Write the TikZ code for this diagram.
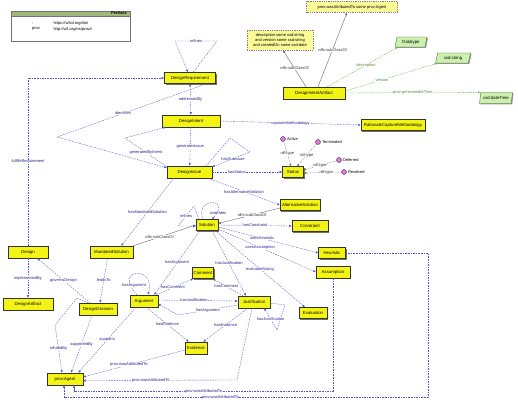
\documentclass[tikz,border=0pt]{standalone}
\usepackage{fontspec}
\setmainfont{Liberation Sans}
\usetikzlibrary{arrows.meta,shapes.geometric,shadows}
\definecolor{clsfill}{RGB}{244,244,20}
\definecolor{shadowc}{RGB}{115,115,85}
\definecolor{restfill}{RGB}{250,250,150}
\definecolor{dtfill}{RGB}{205,240,175}
\definecolor{dtborder}{RGB}{70,120,50}
\definecolor{indfill}{RGB}{225,120,225}
\definecolor{opc}{RGB}{85,85,205}
\definecolor{lblc}{RGB}{35,35,140}
\definecolor{dpc}{RGB}{90,180,60}
\definecolor{preffill}{RGB}{160,185,120}
\newcommand\myfs{\fontsize{4.3}{5}\selectfont}
\newcommand\myfl{\fontsize{4}{4.6}\selectfont}
\tikzset{
  clsnode/.style={draw=black!80, fill=clsfill, line width=0.35pt, inner sep=0pt, minimum height=11pt, font=\myfs,
    drop shadow={shadow xshift=1.2pt, shadow yshift=-1.2pt, fill=shadowc, opacity=1}},
  restnode/.style={draw=black!50, dash pattern=on 1pt off 0.8pt, fill=restfill, inner sep=1pt, font=\myfl, align=center},
  dtnode/.style={trapezium, trapezium left angle=72, trapezium right angle=108, trapezium stretches=true,
    draw=dtborder, fill=dtfill, inner sep=0pt, minimum height=10pt, font=\myfs,
    drop shadow={shadow xshift=1pt, shadow yshift=-1pt, fill=black!40, opacity=1}},
  indnode/.style={circle, draw=black!80, line width=0.4pt, fill=indfill, minimum size=5pt, inner sep=0pt},
  opedge/.style={draw=opc, dash pattern=on 1.6pt off 1pt, line width=0.35pt, ->},
  subedge/.style={draw=black!60, line width=0.4pt, ->},
  typedge/.style={draw=black!55, dash pattern=on 1.2pt off 1pt, line width=0.35pt, ->},
  dpedge/.style={draw=dpc, dash pattern=on 1.6pt off 1pt, line width=0.35pt, -{Latex[open,length=2.6pt,width=2.2pt]}},
  elbl/.style={font=\myfl, text=lblc, fill=white, inner sep=0.3pt},
  tlbl/.style={elbl, text=black!80},
  glbl/.style={elbl, text=dpc!80!black},
  txt/.style={font=\myfl, inner sep=0.3pt},
}
\begin{document}
\begin{tikzpicture}[x=1pt,y=-1pt,>={Latex[length=2.6pt,width=2.2pt]}]
\useasboundingbox (0,0) rectangle (518,403);
\fill[white] (0,0) rectangle (518,403);

% prefixes
\node[draw=black!55, line width=0.5pt, minimum width=119pt, minimum height=30pt, inner sep=0pt] (pref) at (70.5,26) {};
\node[fill=preffill, draw=black!55, line width=0.5pt, minimum width=119pt, minimum height=5pt, inner sep=0pt, anchor=north] (prefh) at (pref.north) {};
\node[txt, font=\bfseries\myfl, anchor=east] (preft) at ([xshift=-3pt]prefh.east) {Prefixes};
\node[txt] (p1k) at (33,23) {:};
\node[txt, anchor=west] (p1v) at (53,23) {https://w3id.org/dio/};
\node[txt] (p2k) at (36,29) {prov};
\node[txt, anchor=west] (p2v) at (53,29) {http://w3.org/ns/prov\#};

% classes
\node[clsnode, minimum width=51pt] (DReq) at (190,78) {DesignRequirement};
\node[clsnode, minimum width=58pt, minimum height=12pt] (DIntent) at (191,121) {DesignIntent};
\node[clsnode, minimum width=45pt, minimum height=12pt] (DIssue) at (189.5,172) {DesignIssue};
\node[clsnode, minimum width=21pt] (Status) at (293,172) {Status};
\node[clsnode, minimum width=40pt] (AltSol) at (300,205) {AlternativeSolution};
\node[clsnode, minimum width=22pt] (Sol) at (207,225) {Solution};
\node[clsnode, minimum width=36pt] (Constr) at (310,226) {Constraint};
\node[clsnode, minimum width=27pt] (Heur) at (332,253) {Heuristic};
\node[clsnode, minimum width=34pt, minimum height=12pt] (Assum) at (333,272) {Assumption};
\node[clsnode, minimum width=28pt] (Eval) at (313,313) {Evaluation};
\node[clsnode, minimum width=32pt, minimum height=12pt] (Just) at (254,302) {Justification};
\node[clsnode, minimum width=21pt] (Comm) at (203,273) {Comment};
\node[clsnode, minimum width=22pt, minimum height=12pt] (Evid) at (196,348) {Evidence};
\node[clsnode, minimum width=28pt, minimum height=12pt] (Arg) at (144,301) {Argument};
\node[clsnode, minimum width=36pt, minimum height=12pt] (Agent) at (65,379) {prov:Agent};
\node[clsnode, minimum width=38pt, minimum height=12pt] (DDec) at (98,309) {DesignDecision};
\node[clsnode, minimum width=50pt, minimum height=12pt] (DArt) at (28,304) {DesignArtifact};
\node[clsnode, minimum width=40pt, minimum height=12pt] (Design) at (28,252) {Design};
\node[clsnode, minimum width=43pt, minimum height=12pt] (MandSol) at (111.5,252) {MandatedSolution};
\node[clsnode, minimum width=62pt, minimum height=12pt] (DIA) at (314,93) {DesignIntentArtifact};
\node[clsnode, minimum width=64pt] (RatMeth) at (393,125) {RationaleCaptureMethodology};

% restrictions
\node[restnode, minimum width=66pt, minimum height=20pt] (R1) at (280,40) {description some xsd:string\\and version some xsd:string\\and createdOn some xsd:date};
\node[restnode, minimum width=91pt, minimum height=11pt] (R2) at (352,7) {prov:wasAttributedTo some prov:Agent};

% datatypes
\node[dtnode, minimum width=32pt] (Dtype) at (411,42) {Datatype};
\node[dtnode, minimum width=35pt] (XStr) at (453,58) {xsd:string};
\node[dtnode, minimum width=33pt, minimum height=11pt] (XDT) at (496,98) {xsd:dateTime};

% individuals
\node[indnode] (Active) at (283,139) {};
\node[txt, anchor=west] (ActiveL) at ([xshift=0.8pt]Active.east) {Active};
\node[indnode] (Term) at (318,142) {};
\node[txt, anchor=west] (TermL) at ([xshift=0.8pt]Term.east) {Terminated};
\node[indnode] (Def) at (339,160) {};
\node[txt, anchor=west] (DefL) at ([xshift=0.8pt]Def.east) {Deferred};
\node[indnode] (Res) at (344,172) {};
\node[txt, anchor=west] (ResL) at ([xshift=0.8pt]Res.east) {Resolved};

% ---- connectors ----
\draw[opedge] (Design.north) |- node[elbl,pos=0.25]{fulfillsRequirement} (DReq.west);

\coordinate (rf1) at (175,41);
\coordinate (rf2) at (217,41);
\draw[opedge] ([xshift=3pt]DReq.north) -- (rf2) -- node[elbl]{refines} (rf1) -- ([xshift=-2pt]DReq.north);

\draw[opedge,<->] (DReq) -- node[elbl]{addressedBy} (DIntent);
\draw[opedge] (DIntent) -- node[elbl]{generatesIssue} (DIssue);
\draw[opedge] (DIntent.east) -- node[elbl]{capturesMethodology} (RatMeth.west);

\coordinate (w1) at (57,137);
\draw[opedge] ([xshift=-9pt]DReq.south east) -- node[elbl,pos=0.56]{identifies} (w1) -- ([yshift=-2pt]DIssue.north west);
\coordinate (w2) at (125,138);
\draw[opedge] ([yshift=-1pt]DIssue.north west) -- node[elbl]{generatedByIntent} (w2) -- ([xshift=4pt]DIntent.south west);

\coordinate (s1) at (230,138);
\coordinate (s2) at (250,152);
\draw[opedge] ([xshift=-6pt]DIssue.north east) -- (s1) -- (s2) -- node[elbl,pos=0.45]{hasSubIssue} ([yshift=-1pt]DIssue.north east);

\draw[opedge] (DIssue.east) -- node[elbl,pos=0.35]{hasStatus} (Status.west);

\draw[typedge] (Active) -- node[tlbl]{rdf:type} ([xshift=-2pt]Status.north);
\draw[typedge] (Term) -- node[tlbl]{rdf:type} ([xshift=4pt]Status.north);
\draw[typedge] (Def) -- node[tlbl]{rdf:type} ([yshift=2pt]Status.east);
\draw[typedge] (Res) -- node[tlbl,pos=0.4]{rdf:type} ([yshift=-1pt]Status.east);

\draw[opedge] ([xshift=-4pt]DIssue.south east) -- node[elbl]{hasAlternativeSolution} (AltSol.west);
\draw[opedge] ([xshift=7pt]DIssue.south west) -- node[elbl]{hasMandatedSolution} ([xshift=-12pt]MandSol.north east);

\draw[subedge] (MandSol.north east) -- node[tlbl,pos=0.42]{rdfs:subClassOf} (Sol.west);
\draw[subedge] ([yshift=-3pt]AltSol.west) -- node[tlbl,pos=0.45]{rdfs:subClassOf} ([yshift=1.5pt]Sol.east);

\coordinate (sr1) at (194,206);
\coordinate (sr2) at (178,226);
\draw[opedge] ([xshift=-8pt]Sol.north) -- (sr1) -- node[elbl]{refines} (sr2) -- ([yshift=-1pt]Sol.west);
\draw[opedge] ([xshift=-4pt]Sol.north) .. controls (194,197) and (232,197) .. ([xshift=5pt]Sol.north);
\node[elbl, fill=none] (ovl) at (218,213.5) {overrides};

\draw[opedge] (Sol.east) -- node[elbl]{hasConstraint} (Constr.west);
\draw[opedge] ([yshift=-2pt]Sol.east) -- node[elbl,pos=0.44]{usesHeuristic} (Heur.west);
\draw[opedge] ([yshift=-4pt]Sol.east) -- node[elbl,pos=0.43]{usesAssumption} (Assum.west);
\draw[opedge] ([xshift=5pt]Sol.south) -- node[elbl]{hasJustification} ([xshift=-8pt]Just.north);
\draw[opedge] ([xshift=8pt]Sol.south) -- node[elbl]{evaluatedUsing} ([xshift=-8pt]Eval.north);
\draw[opedge] ([xshift=-7pt]Sol.south) -- node[elbl]{hasArgument} ([xshift=-4pt]Arg.north east);

\draw[opedge] ([xshift=-7pt]Arg.north) .. controls (112,268) and (156,265) .. ([xshift=4pt]Arg.north);
\node[elbl] (argl) at (134,285.5) {hasArgument};

\draw[opedge] ([yshift=1pt]Arg.east) -- node[elbl,pos=0.45]{hasJustification} ([yshift=1pt]Just.west);
\coordinate (ja) at (178,315);
\draw[opedge] ([yshift=-3pt]Just.west) -- node[elbl]{hasArgument} (ja) -- ([yshift=-3pt]Arg.east);

\draw[opedge] ([xshift=2pt]Arg.south) -- node[elbl]{hasEvidence} ([xshift=4pt]Evid.north west);
\draw[opedge] ([xshift=-6pt]Just.south) -- node[elbl]{hasEvidence} ([xshift=-4pt]Evid.north east);

\coordinate (jl1) at (285,305);
\coordinate (jl2) at (277,330);
\draw[opedge] ([yshift=-1pt]Just.east) -- (jl1) -- (jl2) -- node[elbl]{hasJustification} ([xshift=-6pt]Just.south east);

\draw[opedge] ([xshift=-2pt]Arg.north east) -- node[elbl,pos=0.45]{hasComment} ([xshift=1pt]Comm.south west);
\draw[opedge] ([xshift=-11pt]Just.north) -- node[elbl,pos=0.55]{hasComment} ([xshift=-1pt]Comm.south east);

\draw[opedge] ([xshift=-8pt]Arg.south) -- node[elbl]{supports} ([xshift=-5pt]Agent.north east);
\draw[opedge] ([xshift=-6pt]DDec.south) -- node[elbl]{supportedBy} ([xshift=6pt]Agent.north);
\coordinate (rb1) at (77,298);
\coordinate (rb2) at (55,325);
\draw[opedge] ([xshift=-10pt]DDec.north) -- (rb1) -- (rb2) -- node[elbl]{refutedBy} ([xshift=-3pt]Agent.north);

\draw[opedge] ([xshift=-8pt]DDec.north) -- node[elbl]{governsDesign} ([xshift=-11pt]Design.south east);
\draw[opedge] (Design.south) -- node[elbl]{implementedBy} (DArt.north);
\draw[opedge] ([xshift=-4pt]MandSol.south) -- node[elbl]{leadsTo} ([xshift=2pt]DDec.north);

\draw[opedge] ([yshift=-2pt]Evid.west) -- node[elbl,pos=0.55]{prov:wasAttributedTo} ([yshift=2pt]Agent.east);
\coordinate (ja2) at (237,380);
\draw[opedge] ([xshift=-2pt]Just.south) -- (ja2) -- node[elbl,pos=0.56]{prov:wasAttributedTo} ([yshift=-1.5pt]Agent.east);
\coordinate (aa1) at (333,391);
\coordinate (aa2) at (74,391);
\draw[opedge] (Assum.south) -- (aa1) -- node[elbl]{prov:wasAttributedTo} (aa2) -- ([xshift=9pt]Agent.south);
\coordinate (ha1) at (428,253);
\coordinate (ha2) at (428,397);
\coordinate (ha3) at (64,397);
\draw[opedge] (Heur.east) -- (ha1) -- (ha2) -- node[elbl,pos=0.57]{prov:wasAttributedTo} (ha3) -- ([xshift=-1pt]Agent.south);

\draw[subedge] ([xshift=-8pt]DIA.north) -- node[tlbl]{rdfs:subClassOf} ([xshift=3pt]R1.south);
\draw[subedge] ([xshift=4pt]DIA.north) -- node[tlbl]{rdfs:subClassOf} ([xshift=-5pt]R2.south);

\draw[dpedge] ([xshift=-18pt]DIA.north east) -- node[glbl,pos=0.55]{description} ([xshift=3pt]Dtype.bottom left corner);
\draw[dpedge] ([yshift=2pt]DIA.east) -- node[glbl,pos=0.4]{version} ([xshift=2pt]XStr.bottom left corner);
\draw[dpedge] (DIA.east) -- node[glbl]{prov:generatedAtTime} (XDT.top left corner);
\end{tikzpicture}
\end{document}
